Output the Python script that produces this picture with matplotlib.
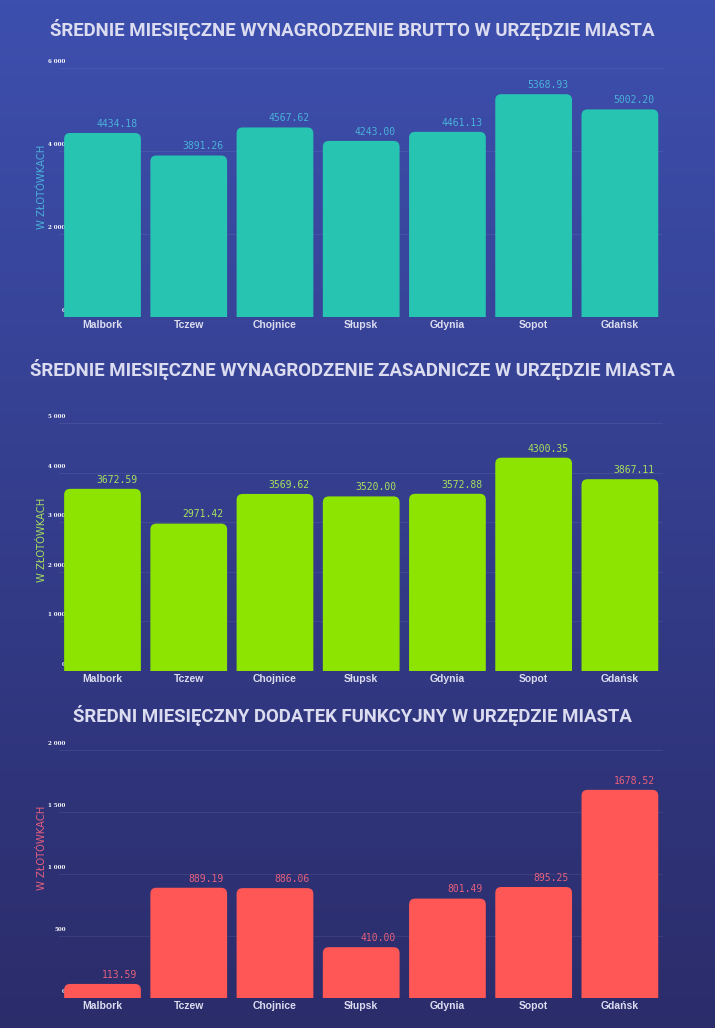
import numpy as np
import matplotlib
matplotlib.use("Agg")
import matplotlib.pyplot as plt
from matplotlib.patches import FancyBboxPatch
from matplotlib.ticker import FuncFormatter
import matplotlib.transforms as mtransforms

# data
cities = ["Malbork", "Tczew", "Chojnice", "Słupsk", "Gdynia", "Sopot", "Gdańsk"]
brutto = [4434.18, 3891.26, 4567.62, 4243.00, 4461.13, 5368.93, 5002.20]
zasadnicze = [3672.59, 2971.42, 3569.62, 3520.00, 3572.88, 4300.35, 3867.11]
dodatek = [113.59, 889.19, 886.06, 410.00, 801.49, 895.25, 1678.52]

titles = [
    "ŚREDNIE MIESIĘCZNE WYNAGRODZENIE BRUTTO W URZĘDZIE MIASTA",
    "ŚREDNIE MIESIĘCZNE WYNAGRODZENIE ZASADNICZE W URZĘDZIE MIASTA",
    "ŚREDNI MIESIĘCZNY DODATEK FUNKCYJNY W URZĘDZIE MIASTA",
]
ylabel = "W ZŁOTÓWKACH"
yticks = [np.arange(0, 6001, 2000), np.arange(0, 5001, 1000), np.arange(0, 2001, 500)]

bar_colors = ["#28c4b2", "#8ee401", "#ff5656"]
label_colors = ["#4ab2d8", "#a8e05e", "#e8607c"]

W, H = 715, 1028
fig = plt.figure(figsize=(W / 100, H / 100), dpi=100)

# background gradient
bg = fig.add_axes([0, 0, 1, 1], zorder=-10)
top = np.array([61, 79, 174]) / 255
bot = np.array([43, 44, 106]) / 255
t = np.linspace(0, 1, 256)[:, None]
grad = top[None, :] * (1 - t) + bot[None, :] * t
bg.imshow(grad[:, None, :], aspect="auto", extent=[0, 1, 0, 1])
bg.axis("off")

title_font = ["Roboto", "DejaVu Sans"]
txt_col = "#dcdcf0"

# axes placement in pixels: (zero line y, top line y)
panels = [(317, 68), (671, 423), (998, 750)]
title_y = [30, 369, 716]
ylab_y = [187, 540, 848]
left_px, right_px = 59.4, 663

fmt = FuncFormatter(lambda v, p: f"{v:,.0f}".replace(",", " "))

for k, values in enumerate([brutto, zasadnicze, dodatek]):
    y0, y1 = panels[k]
    ax = fig.add_axes([left_px / W, 1 - y0 / H, (right_px - left_px) / W, (y0 - y1) / H])
    ax.set_facecolor("none")
    x = np.arange(len(cities))
    bars = ax.bar(x, values, width=0.89, color=bar_colors[k])
    ymax = yticks[k][-1]
    ax.set_xlim(-0.5, len(cities) - 0.5)
    ax.set_ylim(0, ymax)

    # rounded top corners
    px_x = (right_px - left_px) / len(cities)
    px_y = (y0 - y1) / ymax
    rx = 6 / px_x
    ry = 6 / px_y
    for b in bars:
        b.set_visible(False)
        p = FancyBboxPatch((b.get_x(), -ry), b.get_width(), b.get_height() + ry,
                           boxstyle=f"round,pad=0,rounding_size={rx}",
                           mutation_aspect=ry / rx, facecolor=bar_colors[k],
                           edgecolor="none", zorder=2)
        ax.add_patch(p)
        ax.annotate(f"{b.get_height():.2f}",
                    (b.get_x() + b.get_width() - 0.04, b.get_height()),
                    xytext=(0, 3), textcoords="offset points",
                    ha="right", va="bottom", fontsize=7,
                    family="DejaVu Sans Mono", color=label_colors[k])

    ax.set_yticks(yticks[k])
    ax.yaxis.set_major_formatter(fmt)
    ax.grid(axis="y", color="white", alpha=0.07, linewidth=0.7)
    ax.set_axisbelow(True)
    for s in ax.spines.values():
        s.set_visible(False)
    ax.tick_params(axis="y", length=0, pad=-4.5, labelsize=4, labelcolor="white")
    ax.tick_params(axis="x", length=0, pad=2, labelsize=7.5, labelcolor=txt_col)
    ax.set_xticks(x)
    ax.set_xticklabels(cities, fontweight="bold", family="Liberation Sans")
    off = mtransforms.ScaledTranslation(0, 5 / 72, fig.dpi_scale_trans)
    for lab in ax.get_yticklabels():
        lab.set_family("DejaVu Serif")
        lab.set_fontweight("bold")
        lab.set_transform(lab.get_transform() + off)

    fig.text(352 / W, 1 - title_y[k] / H, titles[k], ha="center", va="center",
             fontsize=13.4, fontweight="bold", family=title_font, color=txt_col)
    fig.text(42 / W, 1 - ylab_y[k] / H, ylabel, rotation=90, ha="center", va="center",
             fontsize=7.2, family="DejaVu Sans", color=label_colors[k])

fig.savefig("out.png", dpi=100)
